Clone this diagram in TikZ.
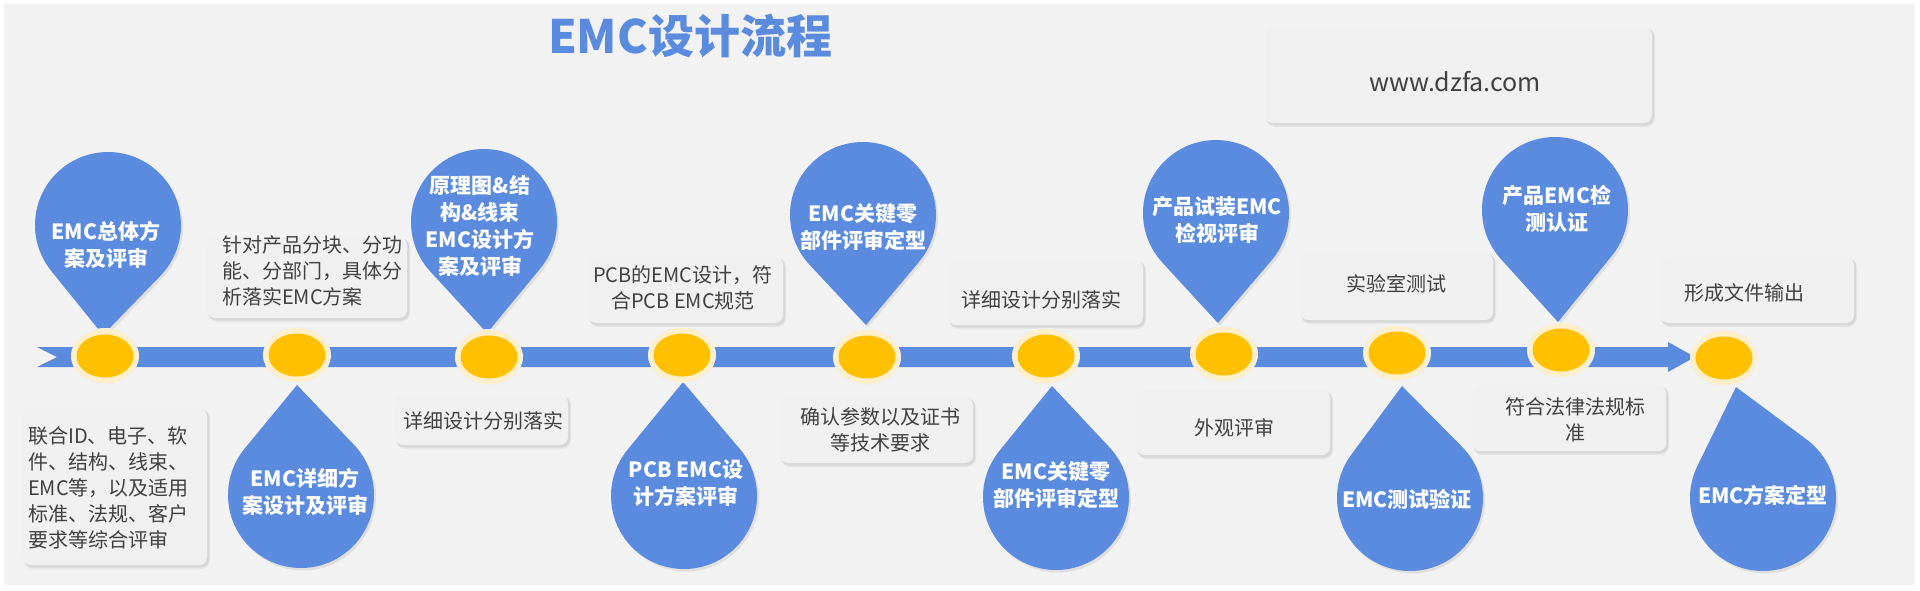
\documentclass[tikz,border=0pt]{standalone}
\usepackage{fontspec}
\setmainfont{Noto Sans CJK SC}
\usetikzlibrary{calc}
\definecolor{bg}{HTML}{F2F2F2}
\definecolor{blu}{HTML}{5B8BDF}
\definecolor{yel}{HTML}{FFC000}
\definecolor{ring}{HTML}{FCEFC9}
\definecolor{boxfill}{HTML}{F0F0F0}
\definecolor{txt}{HTML}{404040}
\newcommand\teardrop[4]{%
  \pgfmathsetmacro\tdA{atan2(#4-#2,#3-#1)}%
  \pgfmathsetmacro\tdD{veclen(#3-#1,#4-#2)}%
  \pgfmathsetmacro\tdH{acos(73/\tdD)}%
  \pgfmathsetmacro\tdS{\tdA+\tdH}%
  \pgfmathsetmacro\tdE{\tdA+360-\tdH}%
  \path[dropshadow, shift={(2,2.5)}] (#3,#4) -- ($(#1,#2)+(\tdS:73)$) arc[start angle=\tdS, end angle=\tdE, radius=73] -- cycle;
  \path[dropshape] (#3,#4) -- ($(#1,#2)+(\tdS:73)$) arc[start angle=\tdS, end angle=\tdE, radius=73] -- cycle;
}
\newcommand\textbox[5]{% name, x1,y1,x2,y2
  \fill[black, opacity=0.05, rounded corners=9pt] (#2+1,#3+1) rectangle (#4+3,#5+4);
  \fill[black, opacity=0.06, rounded corners=8pt] (#2+1.5,#3+1.5) rectangle (#4+2,#5+2.5);
  \node[tbox, minimum width=#4pt-#2pt, minimum height=#5pt-#3pt] (#1) at ({(#2+#4)/2},{(#3+#5)/2}) {};
}
\begin{document}
\begin{tikzpicture}[x=1pt,y=-1pt,
  dropshape/.style={fill=blu},
  dropshadow/.style={fill=black, opacity=0.08},
  droptext/.style={text=white, align=center, inner sep=0pt, font=\fontsize{21}{27}\selectfont\bfseries},
  tbox/.style={fill=boxfill, rounded corners=8pt, draw=none, inner sep=0pt},
  boxtext/.style={text=txt, inner sep=0pt, font=\fontsize{20}{26}\selectfont},
  glow/.style={fill=ring},
  dot/.style={fill=yel}]
\useasboundingbox (0,0) rectangle (1920,590);
\fill[white] (0,0) rectangle (1920,590);
\fill[bg] (4,4) rectangle (1915,585);

% title
\node[text=blu, inner sep=0pt, font=\fontsize{46}{52}\selectfont\bfseries] (title) at (690,36) {EMC设计流程};

% website box
\textbox{boxK}{1265}{27}{1652}{123}
\node[boxtext, font=\fontsize{25}{30}\selectfont] (txtK) at (1455,82) {www.dzfa.com};

% timeline bar
\coordinate (barS) at (37,357);
\coordinate (barE) at (1695,357);
\fill[blu] (barS) ++(0,-10) -- (1668,347) -- (1668,342) -- (barE) -- (1668,372) -- (1668,367) -- (37,367) -- (57,357) -- cycle;

% text boxes
\textbox{boxA}{207}{237}{407}{318}
\textbox{boxB}{23}{408}{207}{565}
\textbox{boxC}{395}{395}{568}{445}
\textbox{boxD}{588}{257}{783}{323}
\textbox{boxE}{780}{397}{973}{463}
\textbox{boxF}{948}{260}{1143}{325}
\textbox{boxG}{1136}{390}{1330}{455}
\textbox{boxH}{1300}{253}{1493}{320}
\textbox{boxI}{1472}{385}{1666}{451}
\textbox{boxJ}{1660}{257}{1854}{323}

\node[boxtext, anchor=west, align=left] (txtA) at (222,271) {针对产品分块、分功\\能、分部门，具体分\\析落实EMC方案};
\node[boxtext, anchor=west, align=left] (txtB) at (28,488) {联合ID、电子、软\\件、结构、线束、\\EMC等，以及适用\\标准、法规、客户\\要求等综合评审};
\node[boxtext] (txtC) at (483,421) {详细设计分别落实};
\node[boxtext, align=center] (txtD) at (683,288) {PCB的EMC设计，符\\合PCB EMC规范};
\node[boxtext, align=center] (txtE) at (880,430) {确认参数以及证书\\等技术要求};
\node[boxtext] (txtF) at (1041,300) {详细设计分别落实};
\node[boxtext] (txtG) at (1234,428) {外观评审};
\node[boxtext] (txtH) at (1396,284) {实验室测试};
\node[boxtext, align=center] (txtI) at (1575,420) {符合法律法规标\\准};
\node[boxtext] (txtJ) at (1744,293) {形成文件输出};

% teardrops
\teardrop{108}{225}{103}{335}
\teardrop{484}{222}{487}{333}
\teardrop{863}{215}{866}{325}
\teardrop{1216}{213}{1218}{323}
\teardrop{1555}{210}{1558}{322}
\teardrop{301}{495}{297}{385}
\teardrop{684}{496}{683}{382}
\teardrop{1056}{497}{1052}{386}
\teardrop{1410}{498}{1402}{386}
\teardrop{1763}{498}{1736}{387}

\node[droptext] (d1) at (106,245) {EMC总体方\\案及评审};
\node[droptext] (d3) at (480,226) {原理图\&结\\构\&线束\\EMC设计方\\案及评审};
\node[droptext] (d5) at (863,227) {EMC关键零\\部件评审定型};
\node[droptext] (d7) at (1217,220) {产品试装EMC\\检视评审};
\node[droptext] (d9) at (1557,209) {产品EMC检\\测认证};
\node[droptext] (d2) at (305,492) {EMC详细方\\案设计及评审};
\node[droptext] (d4) at (686,483) {PCB EMC设\\计方案评审};
\node[droptext] (d6) at (1056,485) {EMC关键零\\部件评审定型};
\node[droptext] (d8) at (1407,499) {EMC测试验证};
\node[droptext] (d10) at (1763,495) {EMC方案定型};

% milestone dots
\foreach \n/\x/\y in {1/105/356,2/297/355,3/489/357,4/682/355,5/867/357,6/1046/356,7/1224/354,8/1397/353,9/1561/350,10/1724/358}{
  \fill[black!6] (\x,\y) ellipse [x radius=34, y radius=28];
  \fill[glow] (\x,\y) ellipse [x radius=33, y radius=27];
  \fill[dot] (\x,\y) ellipse [x radius=28.5, y radius=21.5];
  \coordinate (c\n) at (\x,\y);
}
\end{tikzpicture}
\end{document}
